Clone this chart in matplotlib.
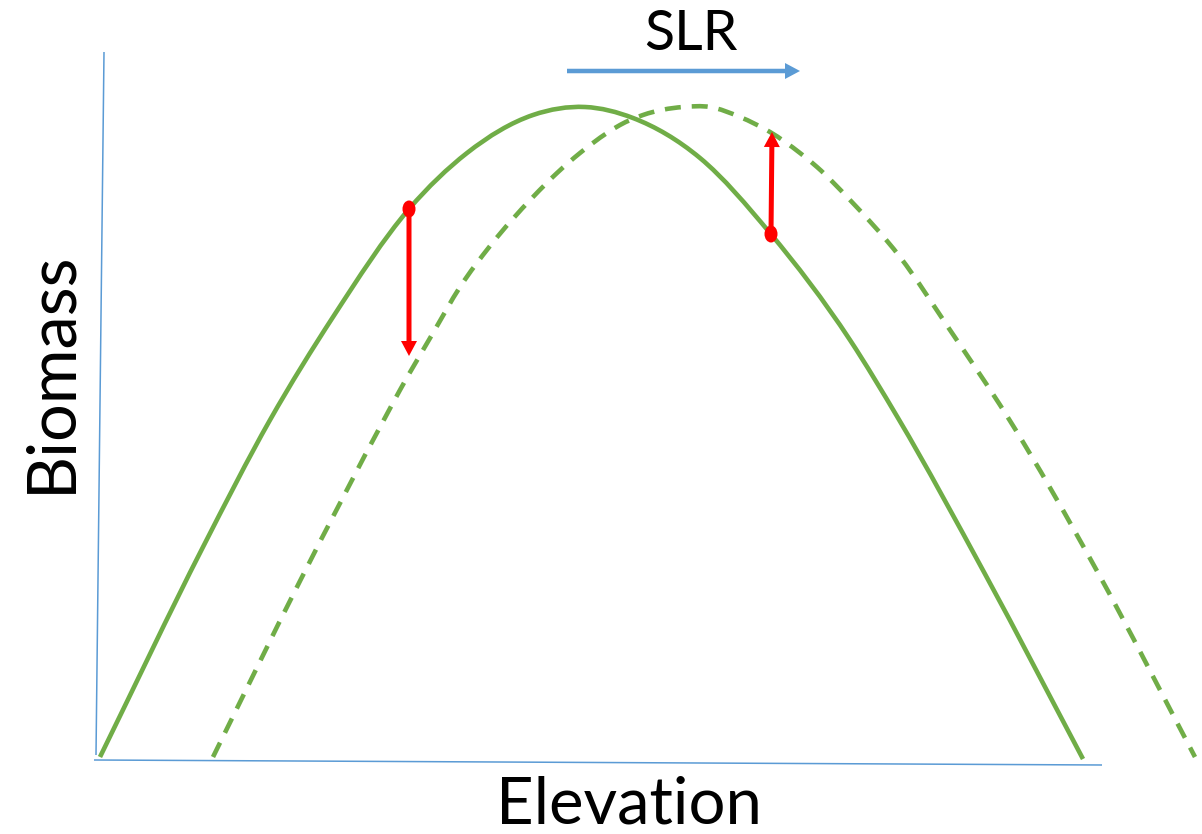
import numpy as np
import matplotlib
matplotlib.use("Agg")
import matplotlib.pyplot as plt
from matplotlib.path import Path
from matplotlib.patches import PathPatch, Ellipse

plt.rcParams['lines.scale_dashes'] = False
plt.rcParams['font.family'] = ['Lato', 'DejaVu Sans']

# ---- data (arbitrary units) ----
elev_current = [0, 103, 170, 233, 309, 367, 433, 485, 533, 600, 670, 750, 798, 885, 983]
biomass_current = [0, 210, 337, 440, 548, 604, 642, 650, 639, 599, 524, 417, 339, 183, -2]

elev_future = [113, 200, 287, 300, 333, 360, 390, 433, 457, 480, 507, 520, 543, 583,
               610, 640, 670, 700, 717, 750, 800, 850, 907, 997, 1095]
biomass_future = [0, 176, 343, 367, 424, 470, 511, 560, 584, 604, 624, 632, 642, 650,
                  650, 640, 625, 604, 590, 557, 500, 427, 341, 186, 0]

# biomass change points: elevation, biomass before, biomass after
change_elev_start = [309, 671]
change_elev_end = [309, 672]
change_from = [548, 523]
change_to = [401, 625]

# sea-level-rise arrow (elevation span, biomass level)
slr_elev = [467, 700]
slr_level = 686

GREEN = '#70AD47'
BLUE = '#5B9BD5'
RED = '#FF0000'


def smooth_path(xs, ys):
    x = np.asarray(xs, float)
    y = np.asarray(ys, float)
    n = len(x)
    h = np.diff(x)
    d = np.diff(y) / h
    m = np.zeros(n)
    m[0] = d[0]
    m[-1] = d[-1]
    for i in range(1, n - 1):
        m[i] = (d[i] * h[i - 1] + d[i - 1] * h[i]) / (h[i - 1] + h[i])
    verts = [(x[0], y[0])]
    codes = [Path.MOVETO]
    for i in range(n - 1):
        verts += [(x[i] + h[i] / 3, y[i] + m[i] * h[i] / 3),
                  (x[i + 1] - h[i] / 3, y[i + 1] - m[i + 1] * h[i] / 3),
                  (x[i + 1], y[i + 1])]
        codes += [Path.CURVE4] * 3
    return Path(verts, codes)


fig = plt.figure(figsize=(12.02, 8.34), dpi=100)
ax = fig.add_axes([0, 0, 1, 1])
ax.set_xlim(-100, 1102)
ax.set_ylim(-77, 757)
ax.axis('off')

# axes lines
ax.plot([4, -4], [705, 2], color=BLUE, lw=1.1, solid_capstyle='butt')
ax.plot([-6, 1002], [-3, -8], color=BLUE, lw=1.1, solid_capstyle='butt')

# curves
ax.add_patch(PathPatch(smooth_path(elev_current, biomass_current), fill=False,
                       edgecolor=GREEN, lw=3.3, capstyle='butt', joinstyle='round'))
ax.add_patch(PathPatch(smooth_path(elev_future, biomass_future), fill=False,
                       edgecolor=GREEN, lw=3.3, linestyle=(0, (11.5, 7.9)),
                       capstyle='butt', joinstyle='round'))

# biomass change arrows with dots
for xs, xe, b0, b1 in zip(change_elev_start, change_elev_end, change_from, change_to):
    ax.arrow(xs, b0, xe - xs, b1 - b0, width=5, head_width=16, head_length=15,
             length_includes_head=True, color=RED, lw=0, zorder=5)
    ax.add_patch(Ellipse((xs, b0), 13, 17, color=RED, lw=0, zorder=6))

# SLR arrow
ax.arrow(slr_elev[0], slr_level, slr_elev[1] - slr_elev[0], 0, width=4.5,
         head_width=16, head_length=15, length_includes_head=True,
         color=BLUE, lw=0, zorder=5)

# texts
ax.text(591, 707, 'SLR', fontsize=40, ha='center', va='baseline', color='black')
ax.text(529, -67, 'Elevation', fontsize=47, ha='center', va='baseline', color='black')
ax.text(-30, 385, 'Biomass', fontsize=48, ha='center', va='baseline', rotation=90,
        rotation_mode='anchor', color='black')

fig.savefig('out.png', dpi=100)
